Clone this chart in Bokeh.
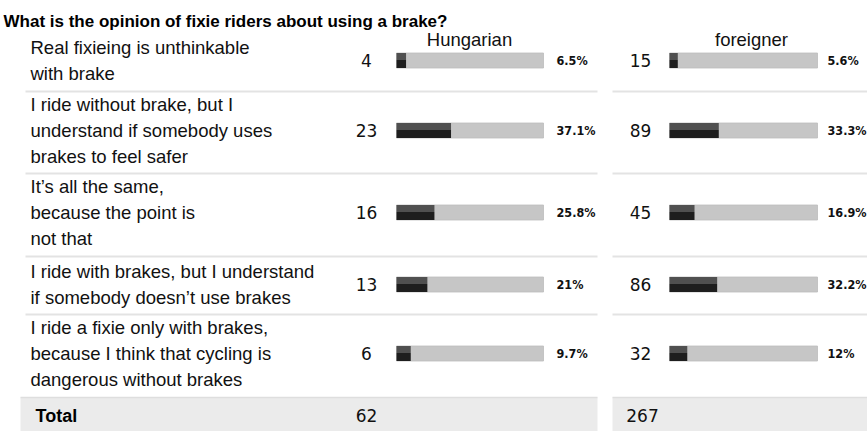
from bokeh.plotting import figure
from bokeh.models import Range1d, ColumnDataSource
from bokeh.core.properties import value
from bokeh.embed import file_html
from bokeh.resources import INLINE

# ---------------- data ----------------
title = "What is the opinion of fixie riders about using a brake?"
groups = ["Hungarian", "foreigner"]
answers = [
    "Real fixieing is unthinkable\nwith brake",
    "I ride without brake, but I\nunderstand if somebody uses\nbrakes to feel safer",
    "It\u2019s all the same,\nbecause the point is\nnot that",
    "I ride with brakes, but I understand\nif somebody doesn\u2019t use brakes",
    "I ride a fixie only with brakes,\nbecause I think that cycling is\ndangerous without brakes",
]
hu_counts = [4, 23, 16, 13, 6]
hu_pct = [6.5, 37.1, 25.8, 21, 9.7]
hu_pct_labels = ["6.5%", "37.1%", "25.8%", "21%", "9.7%"]
fo_counts = [15, 89, 45, 86, 32]
fo_pct = [5.6, 33.3, 16.9, 32.2, 12]
fo_pct_labels = ["5.6%", "33.3%", "16.9%", "32.2%", "12%"]
total_label = "Total"
hu_total = 62
fo_total = 267

# ---------------- layout (pixel-like coordinates) ----------------
W, H = 867, 431
row_y = [60, 130, 212, 284, 353]
sep_y = [91, 173, 256, 314]
bar_h = 15
panels = [
    dict(hx=469, cx=366, bx=396, bw=147, px=556, s0=25, s1=597, t0=20),
    dict(hx=751, cx=640, bx=669, bw=148, px=827, s0=612, s1=867, t0=612),
]

p = figure(width=W, height=H, output_backend="svg", toolbar_location=None,
           x_range=Range1d(0, W), y_range=Range1d(H, 0),
           min_border=0, outline_line_color=None, background_fill_color="white")
p.axis.visible = False
p.grid.visible = False

LAB_FONT = value("Liberation Sans")
NUM_FONT = value("DejaVu Sans")
PCT_FONT = value("'DejaVu Sans Condensed', 'DejaVu Sans'")

# title
p.text(x=[3], y=[21], text=[title], text_font=LAB_FONT, text_font_size=value("17px"),
       text_font_style="bold", text_baseline="alphabetic", text_align="left", text_color="black")

# row labels
p.text(x=[30] * len(answers), y=row_y, text=answers, text_font=LAB_FONT,
       text_font_size=value("18.5px"), text_baseline="middle", text_align="left",
       text_line_height=1.22, text_color="#111111")

data_sets = [(hu_counts, hu_pct, hu_pct_labels, hu_total), (fo_counts, fo_pct, fo_pct_labels, fo_total)]

for g, pan, (counts, pcts, plabels, total) in zip(groups, panels, data_sets):
    # separators
    p.segment(x0=[pan["s0"]] * len(sep_y), x1=[pan["s1"]] * len(sep_y), y0=sep_y, y1=sep_y,
              line_color="#e3e3e3", line_width=2)
    # total band
    p.quad(left=[pan["t0"]], right=[pan["s1"]], top=[397], bottom=[H], fill_color="#ebebeb",
           line_color=None)
    p.segment(x0=[pan["t0"]], x1=[pan["s1"]], y0=[397], y1=[397], line_color="#dedede", line_width=1.5)
    # header
    p.text(x=[pan["hx"]], y=[38.5], text=[g], text_font=LAB_FONT, text_font_size=value("18.5px"),
           text_baseline="middle", text_align="center", text_color="#111111")
    # bars
    src = ColumnDataSource(dict(
        y=row_y,
        left=[pan["bx"]] * len(row_y),
        right=[pan["bx"] + pan["bw"]] * len(row_y),
        dark_right=[pan["bx"] + pc / 100 * pan["bw"] for pc in pcts],
        top=[y - bar_h / 2 for y in row_y],
        mid=[y - 0.5 for y in row_y],
        bottom=[y + bar_h / 2 for y in row_y],
    ))
    p.quad(left="left", right="right", top="top", bottom="bottom", source=src,
           fill_color="#c6c6c6", line_color="#bdbdbd", line_width=0.8)
    p.quad(left="left", right="dark_right", top="top", bottom="mid", source=src,
           fill_color="#505050", line_color=None)
    p.quad(left="left", right="dark_right", top="mid", bottom="bottom", source=src,
           fill_color="#1e1e1e", line_color=None)
    # counts
    p.text(x=[pan["cx"]] * len(row_y), y=row_y, text=[str(c) for c in counts], text_font=NUM_FONT,
           text_font_size=value("17px"), text_baseline="middle", text_align="center",
           text_color="#111111")
    # percentages
    p.text(x=[pan["px"]] * len(row_y), y=row_y, text=plabels, text_font=PCT_FONT,
           text_font_size=value("12.5px"), text_font_style="bold", text_baseline="middle",
           text_align="left", text_color="#111111")
    # total
    p.text(x=[pan["cx"] + (2 if total > 99 else 0)], y=[415], text=[str(total)], text_font=NUM_FONT,
           text_font_size=value("17px"), text_baseline="middle", text_align="center",
           text_color="#111111")

p.text(x=[35], y=[415], text=[total_label], text_font=LAB_FONT, text_font_size=value("18px"),
       text_font_style="bold", text_baseline="middle", text_align="left", text_color="black")

open("out.html", "w").write(file_html(p, INLINE))
